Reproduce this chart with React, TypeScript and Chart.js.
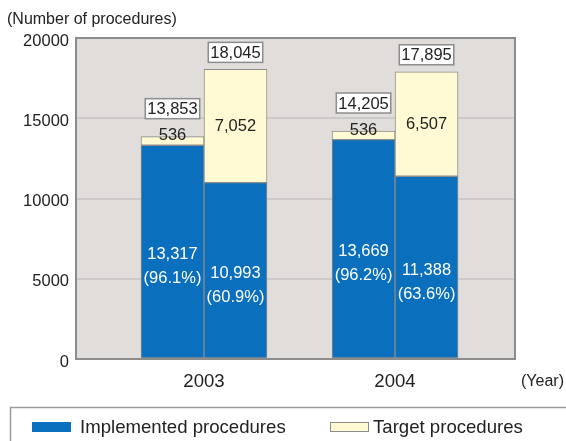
import React, { useEffect, useRef } from 'react';
import { Chart, registerables } from 'chart.js';

Chart.register(...registerables);

// ---- data ----
const years = [2003, 2004];
const implementedOfTotal = [13317, 13669];
const otherOfTotal = [536, 536];
const implementedOfTarget = [10993, 11388];
const remainingTarget = [7052, 6507];
const pctOfTotal = ['96.1%', '96.2%'];
const pctOfTarget = ['60.9%', '63.6%'];
const yTicks = [0, 5000, 10000, 15000, 20000];
const legendLabels = ['Implemented procedures', 'Target procedures'];
const yAxisTitle = '(Number of procedures)';
const xAxisTitle = '(Year)';

// ---- styles ----
const FONT = '"Liberation Sans", Arial, Helvetica, sans-serif';
const BLUE = '#0a6fbd';
const YELLOW = '#fffad3';
const PLOT_BG = '#e1dddb';
const GRID = '#cdc9c8';
const EDGE = '#8c8c8c';
const TEXT = '#222222';

const fmt = (n: number) => n.toLocaleString('en-US');

const decorPlugin = {
  id: 'decor',
  beforeDraw(chart: any) {
    const { ctx, chartArea: a } = chart;
    ctx.save();
    ctx.fillStyle = PLOT_BG;
    ctx.fillRect(a.left, a.top, a.right - a.left, a.bottom - a.top);
    ctx.restore();
  },
  afterDatasetsDraw(chart: any) {
    const { ctx, chartArea: a } = chart;
    ctx.save();
    ctx.strokeStyle = EDGE;
    ctx.lineWidth = 2;
    ctx.strokeRect(a.left, a.top, a.right - a.left, a.bottom - a.top);

    ctx.font = `16.5px ${FONT}`;
    ctx.textAlign = 'center';
    ctx.textBaseline = 'middle';

    // blue segment labels
    const blue: [number, number[], string[]][] = [
      [0, implementedOfTotal, pctOfTotal],
      [2, implementedOfTarget, pctOfTarget],
    ];
    blue.forEach(([di, vals, pcts]) => {
      chart.getDatasetMeta(di).data.forEach((el: any, i: number) => {
        const mid = (el.y + el.base) / 2;
        ctx.fillStyle = '#ffffff';
        ctx.fillText(fmt(vals[i]), el.x, mid + 3);
        ctx.fillText(`(${pcts[i]})`, el.x, mid + 27);
      });
    });

    // small yellow segment labels (on top edge)
    chart.getDatasetMeta(1).data.forEach((el: any, i: number) => {
      ctx.fillStyle = TEXT;
      ctx.fillText(fmt(otherOfTotal[i]), el.x, el.y - 1);
    });
    // big yellow segment labels
    chart.getDatasetMeta(3).data.forEach((el: any, i: number) => {
      ctx.fillStyle = TEXT;
      ctx.fillText(fmt(remainingTarget[i]), el.x, (el.y + el.base) / 2);
    });

    // boxed totals
    const drawBox = (x: number, bottom: number, text: string) => {
      const w = ctx.measureText(text).width + 4;
      const h = 20;
      ctx.fillStyle = '#ffffff';
      ctx.fillRect(x - w / 2, bottom - h, w, h);
      ctx.strokeStyle = EDGE;
      ctx.lineWidth = 1.5;
      ctx.strokeRect(x - w / 2, bottom - h, w, h);
      ctx.fillStyle = TEXT;
      ctx.fillText(text, x, bottom - h / 2 + 1);
    };
    chart.getDatasetMeta(1).data.forEach((el: any, i: number) => {
      drawBox(el.x, el.y - 18, fmt(implementedOfTotal[i] + otherOfTotal[i]));
    });
    chart.getDatasetMeta(3).data.forEach((el: any, i: number) => {
      drawBox(el.x, el.y - 7, fmt(implementedOfTarget[i] + remainingTarget[i]));
    });
    ctx.restore();
  },
  afterDraw(chart: any) {
    const { ctx } = chart;
    ctx.save();
    ctx.font = `16px ${FONT}`;
    ctx.fillStyle = TEXT;
    ctx.textBaseline = 'middle';
    ctx.textAlign = 'left';
    ctx.fillText(yAxisTitle, 7, 20);
    ctx.fillText(xAxisTitle, 521, 382);

    // legend box
    ctx.strokeStyle = '#9a9a9a';
    ctx.lineWidth = 1.5;
    ctx.strokeRect(10.5, 407.5, 570, 50);
    ctx.font = `18.6px ${FONT}`;
    const items: [string, string, number][] = [
      [BLUE, legendLabels[0], 32],
      [YELLOW, legendLabels[1], 330],
    ];
    items.forEach(([color, label, x], i) => {
      ctx.fillStyle = color;
      ctx.fillRect(x, 422, 39, 10);
      ctx.strokeStyle = i === 0 ? BLUE : EDGE;
      ctx.lineWidth = 1;
      ctx.strokeRect(x + 0.5, 422.5, 38, 9);
      ctx.fillStyle = TEXT;
      ctx.fillText(label, i === 0 ? x + 48 : x + 43, 428);
    });
    ctx.restore();
  },
};

const pts = (vals: number[]) => years.map((x, i) => ({ x, y: vals[i] }));

export default function App() {
  const ref = useRef<HTMLCanvasElement>(null);
  useEffect(() => {
    if (!ref.current) return;
    const chart = new Chart(ref.current, {
      type: 'bar',
      data: {
        datasets: [
          { label: legendLabels[0], data: pts(implementedOfTotal), backgroundColor: BLUE, stack: 'total' },
          { label: legendLabels[1], data: pts(otherOfTotal), backgroundColor: YELLOW, stack: 'total' },
          { label: legendLabels[0], data: pts(implementedOfTarget), backgroundColor: BLUE, stack: 'target' },
          { label: legendLabels[1], data: pts(remainingTarget), backgroundColor: YELLOW, stack: 'target' },
        ] as any,
      },
      options: {
        animation: false,
        responsive: false,
        devicePixelRatio: 1,
        layout: { padding: { left: 0, right: 51, top: 38, bottom: 0 } },
        datasets: {
          bar: { barThickness: 63, borderWidth: 1, borderColor: EDGE, borderSkipped: false } as any,
        },
        plugins: { legend: { display: false }, tooltip: { enabled: false }, title: { display: false } },
        scales: {
          x: {
            type: 'linear',
            offset: false,
            bounds: 'ticks',
            min: 2002.33,
            max: 2004.628,
            grid: { display: false, drawTicks: false },
            border: { display: false },
            afterBuildTicks: (s: any) => { s.ticks = years.map((v) => ({ value: v })); },
            afterFit: (s: any) => { s.height = 82; },
            ticks: {
              padding: 12,
              color: TEXT,
              font: { family: FONT, size: 18.6 },
              callback: (v: any) => String(v),
            },
          },
          y: {
            stacked: true,
            min: 0,
            max: 20000,
            grid: {
              color: (c: any) => (c.tick && (c.tick.value === 0 || c.tick.value === 20000) ? 'rgba(0,0,0,0)' : GRID),
              lineWidth: 2,
              drawTicks: false,
            },
            border: { display: false },
            afterBuildTicks: (s: any) => { s.ticks = yTicks.map((v) => ({ value: v })); },
            afterFit: (s: any) => { s.width = 76; },
            ticks: {
              padding: 7,
              labelOffset: 3,
              color: TEXT,
              font: { family: FONT, size: 16.5 },
              callback: (v: any) => String(v),
            },
          },
        } as any,
      },
      plugins: [decorPlugin],
    });
    return () => chart.destroy();
  }, []);
  return (
    <div style={{ position: 'absolute', left: 0, top: 0, width: 566, height: 441, background: '#fff' }}>
      <canvas ref={ref} width={566} height={441} />
    </div>
  );
}
